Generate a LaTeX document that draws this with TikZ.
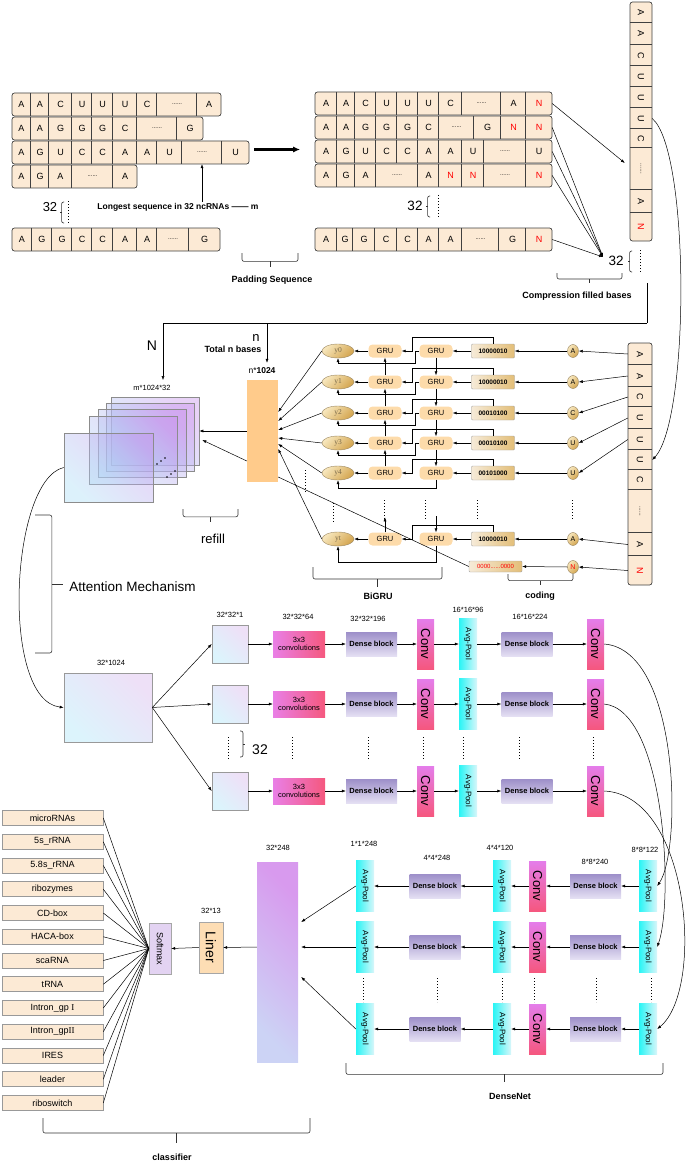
\documentclass[tikz,border=0pt]{standalone}
\usepackage{fontspec}
\setmainfont{Liberation Sans}
\newfontfamily\serifnum{Liberation Serif}
\usepackage{tikz}
\usetikzlibrary{shapes.geometric, arrows.meta, positioning, calc}

\definecolor{seqfill}{HTML}{FCEAD5}
\definecolor{grufill}{HTML}{FDDBAA}
\definecolor{codeL}{HTML}{F6EBD8}
\definecolor{codeR}{HTML}{E3BE78}
\definecolor{yL}{HTML}{F7E6BC}
\definecolor{yR}{HTML}{D4A650}
\definecolor{ybd}{HTML}{9A8660}
\definecolor{ytext}{HTML}{7A6A4A}
\definecolor{barfill}{HTML}{FFCB8B}
\definecolor{sqA}{HTML}{DCF4FC}
\definecolor{sqB}{HTML}{EEE0F7}
\definecolor{stA}{HTML}{A8DDF5}
\definecolor{stB}{HTML}{C68FEC}
\definecolor{cvL}{HTML}{E97FE6}
\definecolor{cvR}{HTML}{F5587E}
\definecolor{dbT}{HTML}{9D8FC9}
\definecolor{dbB}{HTML}{E4DFF3}
\definecolor{kT}{HTML}{E47DEA}
\definecolor{kB}{HTML}{F5577F}
\definecolor{pL}{HTML}{28F5F5}
\definecolor{pR}{HTML}{D9F6FA}
\definecolor{bigA}{HTML}{D89AEE}
\definecolor{bigB}{HTML}{CCD3F5}
\definecolor{linerfill}{HTML}{FDDDB4}
\definecolor{softfill}{HTML}{E3D3F2}

\newcommand\fsz[1]{\fontsize{#1}{#1}\selectfont}
\newcommand\NN{\textcolor{red}{N}}
\newcommand\dotsq{{\fsz{6}......}}

\tikzstyle{seqbox} = [draw=black!75, fill=seqfill, rounded corners=2.5pt, line width=0.7pt]
\tikzstyle{seqline} = [draw=black!75, line width=0.7pt]
\tikzstyle{cell} = [inner sep=0pt, minimum height=23pt, font=\fsz{9}]
\tikzstyle{vcell} = [inner sep=0pt, font=\fsz{9}]
\tikzstyle{lbl} = [inner sep=1pt, font=\fsz{7.5}]
\tikzstyle{blbl} = [inner sep=1pt, font=\bfseries\fsz{9}]
\tikzstyle{arr} = [->, line width=0.5pt]
\tikzstyle{wire} = [line width=0.5pt]
\tikzstyle{brline} = [line width=0.6pt, draw=black!80]
\tikzstyle{gru} = [rectangle, rounded corners=4pt, fill=grufill, minimum width=33pt, minimum height=13pt, inner sep=0pt, font=\fsz{7.5}]
\tikzstyle{onehot} = [rectangle, rounded corners=1pt, draw=gray!70, left color=codeL, right color=codeR, minimum width=43pt, minimum height=14pt, inner sep=0pt, font=\bfseries\fsz{6.5}]
\tikzstyle{yout} = [ellipse, draw=ybd, left color=yL, right color=yR, shading angle=45, minimum width=32pt, minimum height=14pt, inner sep=0pt, font=\serifnum\fsz{7.5}, text=ytext]
\tikzstyle{nuc} = [ellipse, draw=ybd, left color=yL, right color=yR, shading angle=45, minimum width=11pt, minimum height=13pt, inner sep=0pt, font=\fsz{7}]
\tikzstyle{plane} = [rectangle, draw=gray!80, line width=0.6pt, left color=sqA, right color=sqB, shading angle=135, inner sep=0pt]
\tikzstyle{stack} = [rectangle, draw=gray!90, line width=0.6pt, left color=stA, right color=stB, shading angle=135, fill opacity=0.4, inner sep=0pt, minimum width=88pt, minimum height=68pt]
\tikzstyle{convthree} = [rectangle, left color=cvL, right color=cvR, minimum width=52pt, minimum height=26pt, inner sep=0pt, align=center, font=\fsz{7.5}]
\tikzstyle{dense} = [rectangle, top color=dbT, bottom color=dbB, minimum width=51pt, minimum height=24pt, inner sep=0pt, font=\bfseries\fsz{7.5}]
\tikzstyle{convv} = [rectangle, top color=kT, bottom color=kB, minimum width=17pt, minimum height=50pt, inner sep=0pt, font=\fsz{13}]
\tikzstyle{pool} = [rectangle, left color=pL, right color=pR, minimum width=18pt, minimum height=51pt, inner sep=0pt, font=\fsz{8}]
\tikzstyle{cls} = [rectangle, draw=gray!80, line width=0.6pt, fill=seqfill, minimum width=101pt, minimum height=15pt, inner sep=0pt, font=\fsz{9}]

% one row of bases: name, top, left, right, cells left/right/letter
\newcommand\seqrow[5]{%
  \draw[seqbox] (#3,#2) rectangle (#4,#2+23);
  \foreach \ca/\cb/\ct [count=\i] in {#5}{
    \node[cell, minimum width={(\cb-\ca)*1pt}] (#1-\i) at ({(\ca+\cb)/2},#2+11.5) {\ct};
    \ifnum\i>1 \draw[seqline] (#1-\i.north west) -- (#1-\i.south west);\fi
  }
}
% one column of bases: name, left, right, top, bottom, cells top/bottom/letter
\newcommand\seqcol[6]{%
  \draw[seqbox] (#2,#4) rectangle (#3,#5);
  \foreach \ca/\cb/\ct [count=\i] in {#6}{
    \node[vcell, minimum width={(#3-#2)*1pt}, minimum height={(\cb-\ca)*1pt}] (#1-\i) at ({(#2+#3)/2},{(\ca+\cb)/2}) {\rotatebox{-90}{\ct}};
    \ifnum\i>1 \draw[seqline] (#1-\i.north west) -- (#1-\i.north east);\fi
  }
}
% brace opening down: x1, x2, y, depth
\newcommand\hbrace[4]{%
  \draw[brline, rounded corners=2pt] (#1,#3) -- (#1,#3+#4*0.6) -- (#2,#3+#4*0.6) -- (#2,#3);
  \draw[brline] ({(#1+#2)/2},#3+#4*0.6) -- ({(#1+#2)/2},#3+#4);
}
% brace standing up: y1, y2, x, depth (+ right, - left)
\newcommand\vbrace[4]{%
  \draw[brline, rounded corners=2pt] (#3,#1) -- (#3+#4*0.6,#1) -- (#3+#4*0.6,#2) -- (#3,#2);
  \draw[brline] (#3+#4*0.6,{(#1+#2)/2}) -- (#3+#4,{(#1+#2)/2});
}

\begin{document}
\begin{tikzpicture}[x=1pt, y=-1pt, >={Latex[length=4pt,width=3pt]}]
\useasboundingbox (0,0) rectangle (685,1161);

% ---- raw sequences
\seqrow{La}{93}{12}{221}{12/31/A,31/49/A,49/72/C,72/92/U,92/113/U,113/137/U,137/157/C,157/197/\dotsq,197/221/A}
\seqrow{Lb}{117}{12}{203}{12/31/A,31/49/A,49/72/G,72/92/G,92/113/G,113/137/C,137/177/\dotsq,177/203/G}
\seqrow{Lc}{141}{12}{249}{12/31/A,31/49/G,49/72/U,72/92/C,92/113/C,113/137/A,137/157/A,157/182/U,182/222/\dotsq,222/249/U}
\seqrow{Ld}{165}{12}{137}{12/31/A,31/49/G,49/72/A,72/113/\dotsq,113/137/A}
\seqrow{Le}{228}{12}{220}{12/32/A,32/52/G,52/72/G,72/92/C,92/113/C,113/137/A,137/157/A,157/189/\dotsq,189/220/G}

\node[font=\fsz{13}] (lnum) at (50,207) {32};
\vbrace{202}{223}{64}{-4}
\draw[dotted, line width=1pt] (68,201) -- (68,224);
\node[blbl, font=\bfseries\fsz{8.5}] (longest) at (178,207) {Longest sequence in 32 ncRNAs —— m};
\draw[arr] (longest.north -| Lc-9) -- (Lc-9.south);

\draw[->, line width=2.2pt, >={Latex[length=7pt,width=6pt]}] ($(Lc-10.east)+(5,-3)$) -- ($(Lc-10.east)+(51,-3)$);

\hbrace{242}{298}{253}{14}
\node[blbl] (padtxt) at (272,280) {Padding Sequence};

% ---- padded sequences
\seqrow{Ra}{92}{315}{552}{315/337/A,337/355/A,355/376/C,376/397/U,397/418/U,418/439/U,439/462/C,462/501/\dotsq,501/526/A,526/552/\NN}
\seqrow{Rb}{116}{315}{552}{315/337/A,337/355/A,355/376/G,376/397/G,397/418/G,418/439/C,439/474/\dotsq,474/501/G,501/526/\NN,526/552/\NN}
\seqrow{Rc}{140}{315}{552}{315/337/A,337/355/G,355/376/U,376/397/C,397/418/C,418/439/A,439/462/A,462/484/U,484/526/\dotsq,526/552/U}
\seqrow{Rd}{164}{315}{552}{315/337/A,337/355/G,355/376/A,376/418/\dotsq,418/439/A,439/462/\NN,462/484/\NN,484/526/\dotsq,526/552/\NN}
\seqrow{Re}{228}{315}{552}{315/337/A,337/353/G,353/375/G,375/397/C,397/418/C,418/439/A,439/462/A,462/499/\dotsq,499/526/G,526/552/\NN}

\node[font=\fsz{13.5}] (rnum) at (415,206) {32};
\vbrace{196}{217}{430}{-4}
\draw[dotted, line width=1pt] (438,195) -- (438,218);

% ---- compressed column
\seqcol{Ca}{630}{652}{2}{241}{2/23/A,23/45/A,45/66/C,66/87/U,87/108/U,108/129/U,129/148/C,148/190/\dotsq,190/213/A,213/241/\NN}

\draw[arr] (Ra-10.east) -- ($(Ca-8.west)+(-5,-6)$);
\coordinate (merge) at (603,257);
\foreach \n in {Rb-10, Rc-10, Rd-9, Re-10}
  \draw[arr] (\n.east) -- (merge);

\node[font=\fsz{13.5}] (cnum) at (616,261) {32};
\vbrace{251}{272}{632}{-4}
\draw[dotted, line width=1pt] (640,250) -- (640,273);
\hbrace{557}{622}{273}{10}
\node[blbl] (cmptxt) at (577,296) {Compression filled bases};

% ---- feed down
\node[font=\fsz{14}] (Nlbl) at (152,346) {N};
\node[font=\fsz{13}] (nsm) at (256,338) {n};
\node[blbl] (tot) at (233,349) {Total n bases};
\node[lbl, font=\fsz{8.5}] (nlbl) at (262,371) {n*\textbf{1024}};
\node[lbl] (mlbl) at (152,388) {m*1024*32};

\coordinate (cmpx) at (647,283);
\coordinate (bend) at (647,323);
\coordinate (ntip) at ($(nlbl.north)+(5,-4)$);
\draw[wire] (cmpx) -- (bend);
\draw[arr] (bend) -| ($(mlbl.north)+(11,-4)$);
\draw[arr] (ntip |- bend) -- (ntip);

\node[rectangle, fill=barfill, minimum width=31pt, minimum height=102pt, inner sep=0pt] (bar) at (262.5,431) {};

% ---- stack of maps
\node[stack] (st4) at (155,431) {};
\node[stack] (st3) at (150,437.5) {};
\node[stack] (st2) at (142,443.5) {};
\node[stack] (st1) at (133,450.5) {};
\node[stack, minimum width=89pt, minimum height=69pt] (st0) at (108.5,467.5) {};
\foreach \k in {0,1,2}{
  \fill (157+4*\k,464-3*\k) circle (0.8pt);
  \fill (167+4*\k,477-3*\k) circle (0.8pt);
}
\draw[arr] (bar.west) -- (st4.east);
\draw[arr] ($(bar.west)+(0,30)$) -- ($(st4.east)+(3,9)$);

\hbrace{183}{238}{509}{13}
\node[font=\fsz{13}] (refill) at (213,539) {refill};

% ---- second column and BiGRU
\seqcol{Cb}{628}{652}{343}{585}{343/365/A,365/387/A,387/407/C,407/429/U,429/450/U,450/470/U,470/490/C,490/533/\dotsq,533/556/A,556/585/\NN}
\draw[arr] (Ca-6.east) .. controls (690,150) and (690,420) .. (Cb-6.east);

\foreach \i/\yy/\bit/\nt/\cl in {0/351/10000010/A/1, 1/382/10000010/A/2, 2/413/00010100/C/3, 3/443/00010100/U/4, 4/473/00101000/U/5, t/539/10000010/A/9}{
  \node[nuc] (b\i) at (573,\yy) {\nt};
  \node[onehot] (c\i) at (493,\yy) {\bit};
  \node[gru] (gr\i) at (436,\yy) {GRU};
  \node[gru] (gl\i) at (385,\yy) {GRU};
  \node[yout] (y\i) at (338,\yy) {y\i};
  \draw[arr] (Cb-\cl.west) -- (b\i.east);
  \draw[arr] (b\i.west) -- (c\i.east);
  \draw[arr] (c\i.west) -- (gr\i.east);
  \draw[arr] (gl\i.west) -- (y\i.east);
  \draw[arr] (c\i.north) -- ++(0,-7) -| ($(gl\i.east)+(11,0)$) -- (gl\i.east);
}
\foreach \i in {0,1,2,3}
  \draw[arr] (gr\i.west) -- ++(-4,0) -- ++(0,12) -| (y\i.south);
\draw[arr] (gr4.south) -- ++(0,9) -| (y4.south);
\draw[arr] (grt.south) -- ++(0,17) -| (yt.south);
\foreach \i/\j in {0/1,1/2,2/3,3/4}{
  \draw[arr] (gr\i.south) -- (gr\j.north);
  \draw[arr] (gl\j.north) -- (gl\i.south);
}
\draw[arr] (glt.north) -- ++(0,-15);
\draw[arr] ($(grt.north)+(0,-16)$) -- (grt.north);

\node[nuc, text=red] (bN) at (573,567) {N};
\node[onehot, font=\fsz{6}, text=red, minimum width=53pt, minimum height=11pt] (cN) at (495.5,566.5) {0000......0000};
\draw[arr] (Cb-10.west) -- (bN.east);
\draw[arr] (bN.west) -- (cN.east);
\draw[wire] (cN.west) -- ($(bar.east)+(0,46)$);

\foreach \i/\dy in {0/-19,1/-10,2/-1,3/7,4/13,t/18}
  \draw[arr] (y\i.west) -- ($(bar.east)+(0,\dy)$);

\foreach \xx/\ya/\yb in {305/470/492, 333/503/523, 384/500/520, 425/500/521, 477/500/521, 572/500/521}
  \draw[dotted, line width=1pt] (\xx,\ya) -- (\xx,\yb);

\hbrace{313}{442}{567}{20}
\node[blbl] (bigru) at (378,596) {BiGRU};
\hbrace{508}{573}{574}{11}
\node[blbl] (coding) at (540,596) {coding};

% ---- attention
\vbrace{515}{653}{35}{28}
\node[font=\fsz{13.5}] (attn) at (132.5,587) {Attention Mechanism};
\node[plane, minimum width=88pt, minimum height=69pt] (att) at (108,707.5) {};
\node[lbl] (attlbl) at (111,663) {32*1024};
\draw[arr] (st0.west) .. controls (10,480) and (0,700) .. (att.west);

% ---- DenseNet, first half
\foreach \r/\yy in {1/644, 2/704, 3/791}{
  \node[plane, minimum width=36pt, minimum height=38pt] (sq\r) at (230,\yy) {};
  \node[convthree] (cv\r) at (299,\yy) {3x3\\convolutions};
  \node[dense] (da\r) at (371.5,\yy) {Dense block};
  \node[convv] (ka\r) at (425.5,\yy) {\rotatebox{-90}{Conv}};
  \node[pool] (pa\r) at (468,\yy) {\rotatebox{-90}{Avg-Pool}};
  \node[dense] (db\r) at (527,\yy) {Dense block};
  \node[convv] (kb\r) at (595.5,\yy) {\rotatebox{-90}{Conv}};
  \draw[arr] (att.east) -- (sq\r.west);
  \draw[arr] (sq\r.east) -- (cv\r.west);
  \draw[arr] (cv\r.east) -- (da\r.west);
  \draw[arr] (da\r.east) -- (ka\r.west);
  \draw[arr] (ka\r.east) -- (pa\r.west);
  \draw[arr] (pa\r.east) -- (db\r.west);
  \draw[arr] (db\r.east) -- (kb\r.west);
}
\node[lbl] (l1) at (230,615) {32*32*1};
\node[lbl] (l2) at (298,617) {32*32*64};
\node[lbl] (l3) at (368,619) {32*32*196};
\node[lbl] (l4) at (468,610) {16*16*96};
\node[lbl] (l5) at (530,617) {16*16*224};
\foreach \xx in {228, 292, 368, 423, 463, 519, 593}
  \draw[dotted, line width=1pt] (\xx,737) -- (\xx,760);
\vbrace{731}{757}{240}{5}
\node[font=\fsz{14}] (mnum) at (260,750) {32};

% ---- DenseNet, second half
\foreach \r/\yy in {A/886, B/947, C/1029}{
  \node[pool] (p\r1) at (648,\yy) {\rotatebox{-90}{Avg-Pool}};
  \node[dense] (d\r1) at (595.5,\yy) {Dense block};
  \node[convv] (k\r) at (537.5,\yy) {\rotatebox{-90}{Conv}};
  \node[pool] (p\r2) at (502,\yy) {\rotatebox{-90}{Avg-Pool}};
  \node[dense] (d\r2) at (435,\yy) {Dense block};
  \node[pool] (p\r3) at (365,\yy) {\rotatebox{-90}{Avg-Pool}};
  \draw[arr] (p\r1.west) -- (d\r1.east);
  \draw[arr] (d\r1.west) -- (k\r.east);
  \draw[arr] (k\r.west) -- (p\r2.east);
  \draw[arr] (p\r2.west) -- (d\r2.east);
  \draw[arr] (d\r2.west) -- (p\r3.east);
}
\node[lbl] (l6) at (645,850) {8*8*122};
\node[lbl] (l7) at (595,862) {8*8*240};
\node[lbl] (l8) at (500,848) {4*4*120};
\node[lbl] (l9) at (437,858) {4*4*248};
\node[lbl] (l10) at (364,844) {1*1*248};
\foreach \xx in {363, 437, 502, 534, 596, 651}
  \draw[dotted, line width=1pt] (\xx,978) -- (\xx,1002);

\draw[arr] (kb1.east) .. controls (680,650) and (682,850) .. (pA1.east);
\draw[arr] (kb2.east) .. controls (665,710) and (674,900) .. (pB1.east);
\draw[arr] (kb3.east) .. controls (690,795) and (705,990) .. (pC1.east);

\hbrace{346}{663}{1063}{19}
\node[blbl] (dnet) at (510,1096) {DenseNet};

% ---- classifier
\node[rectangle, left color=bigB, right color=bigA, shading angle=135, minimum width=41pt, minimum height=200pt, inner sep=0pt] (big) at (277.5,962) {};
\node[lbl] (l11) at (278,848) {32*248};
\draw[arr] (pA3.west) -- ($(big.east)+(3,-40)$);
\draw[arr] (pB3.west) -- ($(big.east)+(3,-15)$);
\draw[arr] (pC3.west) -- ($(big.east)+(3,15)$);

\node[rectangle, draw=gray!70, fill=linerfill, minimum width=24pt, minimum height=51pt, inner sep=0pt, font=\fsz{14}] (liner) at (211,947.5) {\rotatebox{-90}{Liner}};
\node[lbl] (l12) at (211,911) {32*13};
\node[rectangle, draw=gray!70, fill=softfill, minimum width=22pt, minimum height=51pt, inner sep=0pt, font=\fsz{9}] (soft) at (160,948.5) {\rotatebox{-90}{Softmax}};
\draw[arr] ($(big.west)+(0,-15)$) -- (liner.east);
\draw[arr] (liner.west) -- (soft.east);

\foreach \nm [count=\k from 0] in {microRNAs, 5s\_rRNA, 5.8s\_rRNA, ribozymes, CD-box, HACA-box, scaRNA, tRNA, Intron\_gp {\serifnum I}, Intron\_gp{\serifnum II}, IRES, leader, riboswitch}{
  \node[cls] (cls\k) at (52.5,818+23.75*\k) {\nm};
  \draw[wire] (cls\k.east) -- (soft.west);
}
\hbrace{43}{310}{1118}{25}
\node[blbl] (clf) at (172,1157) {classifier};
\end{tikzpicture}
\end{document}
